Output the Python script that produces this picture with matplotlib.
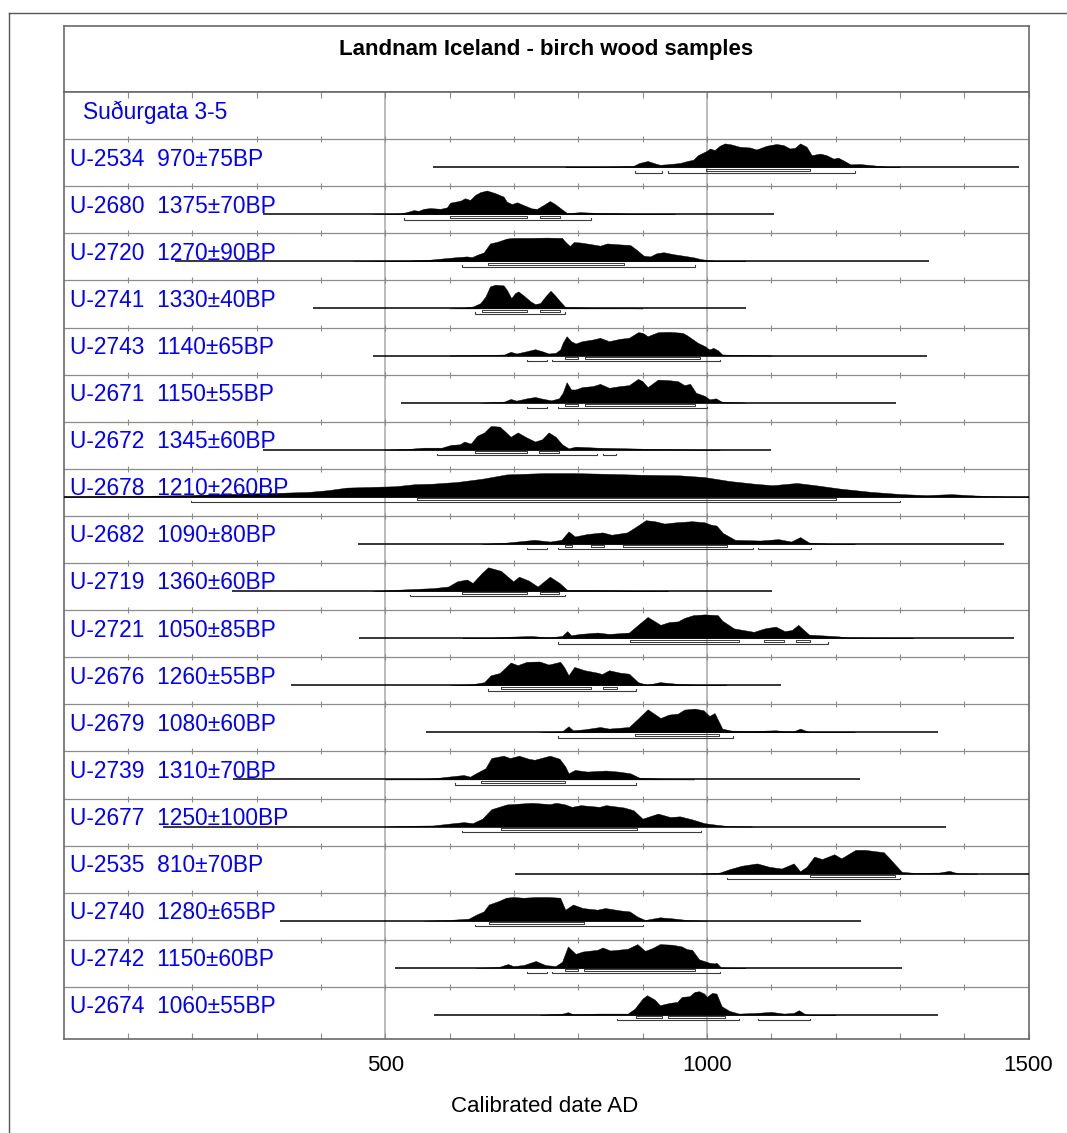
"""
Landnam Iceland - birch wood samples (OxCal style multiplot)
"""
import numpy as np
import matplotlib.pyplot as plt
import matplotlib.ticker as mticker
from matplotlib.lines import Line2D

plt.rcParams["font.family"] = ["Liberation Sans", "DejaVu Sans"]

# ── Datos ────────────────────────────────────────────────────────────────────
TITLE = "Landnam Iceland - birch wood samples"
SITE = "Suðurgata 3-5"
LABELS = ["U-2534  970±75BP", "U-2680  1375±70BP", "U-2720  1270±90BP",
          "U-2741  1330±40BP", "U-2743  1140±65BP", "U-2671  1150±55BP",
          "U-2672  1345±60BP", "U-2678  1210±260BP", "U-2682  1090±80BP",
          "U-2719  1360±60BP", "U-2721  1050±85BP", "U-2676  1260±55BP",
          "U-2679  1080±60BP", "U-2739  1310±70BP", "U-2677  1250±100BP",
          "U-2535  810±70BP", "U-2740  1280±65BP", "U-2742  1150±60BP",
          "U-2674  1060±55BP"]

# extensión de la línea base de cada distribución (años AD)
LINE_START = [575, 310, 174, 388, 481, 524, 310, 0, 457, 262, 460, 353,
              564, 264, 155, 702, 336, 515, 576]
LINE_END = [1486, 1104, 1345, 1061, 1343, 1294, 1099, 1500, 1462, 1102, 1478,
            1116, 1360, 1238, 1371, 1500, 1239, 1303, 1360]

# distribuciones de probabilidad (año, altura relativa)
YR_2534 = [780, 850, 885, 895, 908, 920, 927, 937, 958, 968, 979, 986, 999, 1005,
           1012, 1020, 1028, 1038, 1051, 1067, 1077, 1093, 1108, 1119, 1129, 1137,
           1145, 1155, 1163, 1176, 1186, 1197, 1204, 1212, 1223, 1238, 1259, 1282, 1300]
P_2534 = [0.2, 0.5, 1, 4, 6, 3.5, 2.3, 2.7, 4, 5.7, 7.3, 11.7, 15.7, 18.3,
          16.7, 21, 23.3, 22.3, 20, 19.3, 17.3, 21, 22.7, 21.7, 18.3, 19,
          23.3, 20, 11.7, 13.3, 11.7, 8.3, 9.3, 6.7, 2.7, 3, 1.7, 0.3, 0]

YR_2680 = [480, 523, 531, 539, 544, 552, 560, 570, 586, 596, 601, 609, 617, 624,
           632, 640, 648, 658, 671, 684, 689, 697, 705, 715, 728, 736, 746, 756,
           764, 775, 783, 803, 829, 897, 950]
P_2680 = [0, 0.7, 1.7, 3, 4, 3.3, 5.3, 6, 5.3, 6.7, 11.3, 12.3, 13.3, 15.7,
          14, 19, 21.7, 23.3, 20.7, 17.3, 12.3, 10, 11.7, 9, 5.7, 5.3, 9, 13,
          10, 4.7, 1, 2, 1.3, 0.3, 0]

YR_2720 = [450, 534, 570, 596, 612, 627, 635, 643, 653, 663, 674, 689, 700, 726,
           751, 775, 780, 787, 793, 803, 819, 834, 845, 865, 881, 891, 902, 912,
           922, 933, 948, 964, 980, 990, 1005, 1021, 1060]
P_2720 = [0, 0.7, 1.7, 3.3, 4.3, 5, 4.3, 6.7, 9, 18.3, 20, 23.3, 24, 24,
          24.3, 24, 20, 15.7, 19.7, 19.3, 17.7, 16, 18.3, 17.3, 16.7, 11.7, 5.7, 5,
          8.3, 9.3, 7.3, 5.7, 4, 2.3, 1, 0.3, 0]

YR_2741 = [600, 622, 637, 648, 656, 663, 671, 684, 689, 696, 702, 707, 715, 726,
           733, 741, 749, 757, 764, 772, 780, 803, 855, 900]
P_2741 = [0, 0.7, 2, 5.3, 12, 22, 23.7, 23, 18.7, 10.3, 15.3, 17, 13, 7,
          4.3, 5.3, 12, 17.7, 13, 7, 1.3, 1, 0.3, 0]

YR_2743 = [600, 650, 685, 695, 704, 720, 733, 744, 754, 765, 772, 776, 782, 789,
           796, 806, 823, 834, 848, 865, 879, 893, 900, 908, 924, 941, 962, 969,
           986, 997, 1004, 1010, 1017, 1024, 1060, 1100]
P_2743 = [0, 0.3, 1, 3.7, 2, 4.3, 6.3, 4.3, 2, 2.7, 6, 12.7, 19.3, 14.3,
          12, 14.3, 16, 17.7, 14.3, 16.7, 17.7, 23.3, 22.7, 19.3, 23.3, 23.7, 22.7, 20.3,
          12.7, 9.3, 6, 7.7, 5.3, 1, 0.3, 0]

YR_2671 = [650, 685, 695, 704, 720, 733, 744, 758, 770, 776, 782, 789, 796, 806,
           823, 834, 848, 865, 879, 893, 900, 908, 924, 941, 955, 965, 974, 983,
           997, 1004, 1014, 1023, 1060]
P_2671 = [0, 1, 3.7, 2, 4.3, 5.7, 4, 2.3, 4.3, 10, 20.7, 13.3, 13.3, 15.7,
          16.7, 19, 15, 16.7, 17.7, 24, 21.7, 15.7, 23.3, 22.7, 21.7, 17.7, 19, 10,
          6.7, 3.3, 4.3, 1, 0]

YR_2672 = [500, 540, 560, 588, 602, 616, 623, 633, 643, 654, 664, 678, 688, 695,
           706, 720, 733, 744, 754, 765, 775, 785, 796, 830, 900, 969, 1020]
P_2672 = [0, 1, 2, 2, 4.7, 5.3, 8, 6, 13.7, 17, 23.3, 22.7, 17, 12.7,
          17, 12, 8, 10.3, 17, 12.7, 5.3, 1.3, 3, 2, 1, 0.3, 0]

YR_2678 = [0, 100, 190, 286, 334, 382, 411, 440, 478, 516, 545, 574, 612, 651,
           689, 747, 795, 843, 900, 958, 996, 1035, 1073, 1102, 1140, 1169, 1207,
           1255, 1303, 1342, 1380, 1418, 1466, 1500]
P_2678 = [0.3, 0.7, 1.7, 3.3, 4, 5, 6.7, 9.3, 10, 10.7, 12.7, 13.3, 15, 18.3,
          22.7, 24, 24, 23.3, 22.3, 21.7, 20, 16, 13.3, 11.7, 14, 11.7, 8.3,
          5, 2.7, 1.7, 2.7, 1.3, 0.3, 0.2]

YR_2682 = [650, 689, 732, 756, 774, 785, 795, 814, 838, 852, 876, 891, 905, 919,
           934, 953, 977, 996, 1006, 1015, 1025, 1044, 1083, 1111, 1131, 1145, 1159,
           1188, 1230]
P_2682 = [0, 1.3, 4, 2.3, 4, 12.3, 7.3, 9.7, 11.3, 9, 11.3, 17.3, 23.3, 22.3,
          20, 21.3, 22.3, 21.3, 19, 18, 10.7, 4, 3.3, 4.7, 2.3, 6.7, 1.3,
          0.3, 0]

YR_2719 = [480, 536, 574, 598, 612, 627, 636, 651, 660, 680, 699, 708, 723, 737,
           756, 771, 783, 814, 891, 940]
P_2719 = [0, 1.7, 2.7, 4.3, 9.3, 11, 7.7, 17.7, 22.7, 19.3, 9.3, 13.7, 10, 4.3,
          13.7, 7.7, 1, 1, 0.3, 0]

YR_2721 = [620, 664, 692, 727, 754, 775, 783, 789, 803, 830, 848, 879, 893, 908,
           928, 941, 955, 965, 979, 997, 1017, 1024, 1042, 1073, 1090, 1107, 1121,
           1132, 1142, 1159, 1177, 1204, 1218, 1274, 1320]
P_2721 = [0, 0.3, 1.3, 2, 0.7, 2, 6.7, 2.7, 4, 5.3, 4, 5.3, 12.7, 20.3,
          12.7, 15.3, 16, 19.3, 22, 22.7, 22, 16.7, 9.3, 6, 9.3, 11, 6.7,
          7.7, 12.7, 3.3, 2.7, 1.7, 0.7, 0.3, 0]

YR_2676 = [600, 636, 654, 664, 678, 688, 695, 706, 720, 740, 754, 761, 772, 778,
           785, 794, 810, 830, 837, 848, 865, 879, 893, 907, 927, 955, 990, 1030]
P_2676 = [0, 1, 3, 9.7, 12, 18, 22.3, 19.7, 23, 23.3, 20.3, 21.3, 23, 18,
          9.7, 18, 14.7, 12.3, 11, 14.7, 12.3, 11.3, 3, 0.3, 3, 1.3, 0.3, 0]

YR_2679 = [740, 775, 785, 792, 810, 834, 848, 879, 893, 908, 928, 941, 955, 965,
           981, 995, 1004, 1012, 1024, 1038, 1073, 1107, 1121, 1135, 1145, 1159,
           1190, 1230]
P_2679 = [0, 1, 6, 2, 3, 5.3, 3.7, 5.3, 13.7, 23, 14.3, 17.7, 18.7, 22.7,
          23.7, 22, 16.3, 19.3, 3.7, 1.7, 1.3, 2, 1, 1, 3.7, 0.3,
          0.3, 0]

YR_2739 = [500, 536, 574, 598, 622, 632, 641, 656, 665, 684, 694, 708, 723, 732,
           756, 771, 780, 785, 795, 814, 843, 862, 881, 895, 919, 939, 980]
P_2739 = [0, 0.3, 1, 2.7, 4.3, 2.7, 6, 11, 21, 23.3, 21, 23.3, 20.3, 19.3,
          23.3, 20.3, 12.7, 6, 9.3, 7.7, 8.7, 7.7, 6, 1.7, 1, 0.3, 0]

YR_2677 = [500, 536, 574, 598, 622, 636, 651, 665, 689, 728, 756, 766, 780, 790,
           804, 833, 843, 871, 886, 900, 924, 943, 958, 977, 996, 1015, 1035, 1070]
P_2677 = [0, 0.7, 1, 2.7, 4.3, 3.3, 7.7, 17, 21.7, 23.3, 22, 23.3, 21.7, 19.3,
          21, 19.3, 21, 18.7, 16, 7.7, 12.7, 9.3, 10, 7, 3.3, 1.7, 0.3, 0]

YR_2535 = [990, 1020, 1035, 1054, 1078, 1097, 1116, 1135, 1145, 1155, 1167, 1179,
           1198, 1209, 1231, 1246, 1275, 1284, 1303, 1323, 1361, 1377, 1390, 1420]
P_2535 = [0, 1, 4.3, 7.7, 10, 6.7, 5, 10, 2.3, 6.7, 16.7, 14.3,
          19, 15, 23.3, 23.3, 21, 15, 1.7, 0.7, 1, 2.7, 0.3, 0]

YR_2740 = [560, 599, 630, 641, 653, 661, 676, 688, 699, 715, 734, 753, 772, 780,
           792, 807, 830, 842, 865, 880, 892, 904, 927, 946, 969, 1000]
P_2740 = [0, 0.7, 2, 5.7, 9, 15.7, 19, 22.3, 23, 22.3, 23, 23, 22.3, 10.7,
          15.7, 12.3, 10.7, 12.3, 10, 9, 4, 0.7, 3.3, 2.3, 0.7, 0]

YR_2742 = [640, 676, 691, 699, 715, 734, 749, 765, 775, 784, 796, 807, 830, 838,
           850, 877, 892, 904, 915, 927, 946, 961, 969, 977, 988, 1004, 1012, 1015,
           1022, 1060]
P_2742 = [0, 0.7, 3.7, 1.7, 2.7, 6.7, 2.7, 1.7, 6, 21, 13.7, 16, 17.7, 20,
          17, 18.7, 23.3, 16.7, 19.3, 23.3, 22.7, 21, 18.3, 17.7, 8.3, 5, 4.3, 5,
          0.3, 0]

YR_2674 = [740, 776, 784, 792, 830, 877, 888, 900, 907, 919, 927, 942, 954, 961,
           973, 981, 988, 996, 1000, 1008, 1015, 1023, 1035, 1050, 1077, 1100, 1120,
           1135, 1143, 1153, 1162, 1200]
P_2674 = [0, 1.3, 2.7, 0.7, 1.3, 1.3, 6.3, 16.3, 19.7, 15.3, 9.7, 12, 13, 18,
          18.7, 23, 23.7, 21.3, 18, 22, 21.3, 8.7, 4, 1.3, 2, 3, 1.3,
          2, 4.7, 0.7, 0, 0]

# rangos calibrados 68.2 % (1 sigma) y 95.4 % (2 sigma)
SIG1 = [[(999, 1160)], [(600, 720), (740, 771)], [(660, 871)],
        [(650, 720), (740, 771)], [(780, 800), (810, 990)], [(780, 800), (810, 981)],
        [(640, 720), (739, 770)], [(550, 1200)], [(780, 790), (820, 840), (870, 1032)],
        [(620, 720), (740, 770)], [(880, 1050), (1089, 1120), (1139, 1160)],
        [(680, 820), (839, 860)], [(889, 1019)], [(649, 780)], [(680, 891)],
        [(1161, 1292)], [(661, 809)], [(779, 799), (809, 981)], [(890, 930), (940, 1029)]]
SIG2 = [[(889, 930), (940, 1230)], [(530, 820)], [(620, 981)], [(640, 780)],
        [(720, 751), (760, 1021)], [(720, 751), (769, 1000)], [(580, 829), (839, 859)],
        [(198, 1301)], [(720, 751), (769, 1071), (1080, 1162)], [(538, 780)],
        [(769, 1189)], [(660, 890)], [(769, 1040)], [(609, 890)], [(620, 991)],
        [(1032, 1301)], [(640, 900)], [(720, 751), (760, 1020)], [(860, 1050), (1080, 1161)]]

DISTS = [(YR_2534, P_2534), (YR_2680, P_2680), (YR_2720, P_2720), (YR_2741, P_2741),
         (YR_2743, P_2743), (YR_2671, P_2671), (YR_2672, P_2672), (YR_2678, P_2678),
         (YR_2682, P_2682), (YR_2719, P_2719), (YR_2721, P_2721), (YR_2676, P_2676),
         (YR_2679, P_2679), (YR_2739, P_2739), (YR_2677, P_2677), (YR_2535, P_2535),
         (YR_2740, P_2740), (YR_2742, P_2742), (YR_2674, P_2674)]

X_TICKS = list(range(100, 1501, 100))
X_LABELED = [500, 1000, 1500]

# ── Estilo / geometría (px) ──────────────────────────────────────────────────
W, H = 1067, 1133
LEFT, RIGHT = 63.5, 1028.5
TOP, BAND, BOTTOM = 26, 92, 1039.3
ROW_PX = 47.1
FRAME = "#6a6a6a"
SEP = "#8c8c8c"
GRID = "#a8a8a8"
BLUE = "#0000ff"
FS = 16.4


def fx(px):
    return px / W


def fy(py):
    return 1 - py / H


fig = plt.figure(figsize=(W / 100, H / 100), dpi=100)
fig.patch.set_facecolor("white")

# marco exterior
fig.add_artist(Line2D([fx(9), fx(9)], [fy(13), 0], color="#555555", lw=1.0))
fig.add_artist(Line2D([fx(9), 1], [fy(13), fy(13)], color="#555555", lw=1.0))

# banda de título
ax_t = fig.add_axes([fx(LEFT), fy(BAND), fx(RIGHT) - fx(LEFT), fy(TOP) - fy(BAND)])
ax_t.set_xticks([]); ax_t.set_yticks([])
for s in ax_t.spines.values():
    s.set_color(FRAME); s.set_linewidth(1.2)
ax_t.text(0.5, (BAND - 55) / (BAND - TOP), TITLE, transform=ax_t.transAxes,
          ha="center", va="baseline", fontsize=16, fontweight="bold")

# panel principal
ax = fig.add_axes([fx(LEFT), fy(BOTTOM), fx(RIGHT) - fx(LEFT), fy(BAND) - fy(BOTTOM)])
span = (BOTTOM - BAND) / ROW_PX
ax.set_xlim(0, 1500)
ax.set_ylim(span, 0)
for s in ax.spines.values():
    s.set_color(FRAME); s.set_linewidth(1.2)
ax.set_yticks([])
ax.xaxis.set_major_locator(mticker.FixedLocator(X_TICKS))
ax.xaxis.set_major_formatter(mticker.FixedFormatter(
    [str(t) if t in X_LABELED else "" for t in X_TICKS]))
ax.tick_params(axis="x", direction="in", length=4.3, width=0.8, color=SEP,
               top=True, labelsize=16, pad=11)

# líneas verticales de referencia
for g in [500, 1000]:
    ax.axvline(g, color=GRID, lw=1.1, zorder=1)

# separadores de fila con marcas cada 100 años
minor = X_TICKS[:-1]
tk = 3 / ROW_PX
for k in range(1, len(LABELS) + 1):
    ax.axhline(k, color=SEP, lw=0.9, zorder=1)
    ax.vlines(minor, k - tk, k + tk, color=SEP, lw=0.8, zorder=1)

ax.text((83 - LEFT) / (RIGHT - LEFT), 27 / ROW_PX, SITE, transform=ax.get_yaxis_transform(),
        color=BLUE, fontsize=FS, va="baseline", ha="left", zorder=5)

PEAK = 23.7 / ROW_PX
OFF = 28 / ROW_PX
S1A, S1B, S2, EDGE = 2.0 / ROW_PX, 3.4 / ROW_PX, 5.4 / ROW_PX, 1.4 / ROW_PX
BR = "#3a3a3a"
for i, (lab, (yr, p)) in enumerate(zip(LABELS, DISTS)):
    k = i + 1
    base = k + OFF
    yr = np.asarray(yr, float)
    p = np.asarray(p, float)
    ax.fill_between(yr, base, base - p / p.max() * PEAK, color="black", lw=0.3, zorder=3)
    ax.hlines(base, LINE_START[i], LINE_END[i], color="black", lw=1.1, zorder=3)
    # 1 sigma: barra hueca
    for a, b in SIG1[i]:
        ya, yb = base + S1A, base + S1B
        ax.plot([a, a, b, b, a], [ya - 0.4 * EDGE, yb, yb, ya - 0.4 * EDGE, ya - 0.4 * EDGE],
                color=BR, lw=0.7, zorder=3)
    # 2 sigma: línea con extremos
    for a, b in SIG2[i]:
        yb = base + S2
        ax.plot([a, a, b, b], [yb - EDGE, yb, yb, yb - EDGE], color=BR,
                lw=0.8, zorder=3, solid_joinstyle="miter")
    ax.text((70 - LEFT) / (RIGHT - LEFT), k + 26.4 / ROW_PX, lab,
            transform=ax.get_yaxis_transform(), color=BLUE, fontsize=FS,
            va="baseline", ha="left", zorder=5)

fig.text(fx(545), fy(1111.7), "Calibrated date AD", ha="center", va="baseline", fontsize=16)

fig.savefig("out.png", dpi=100, facecolor="white")
